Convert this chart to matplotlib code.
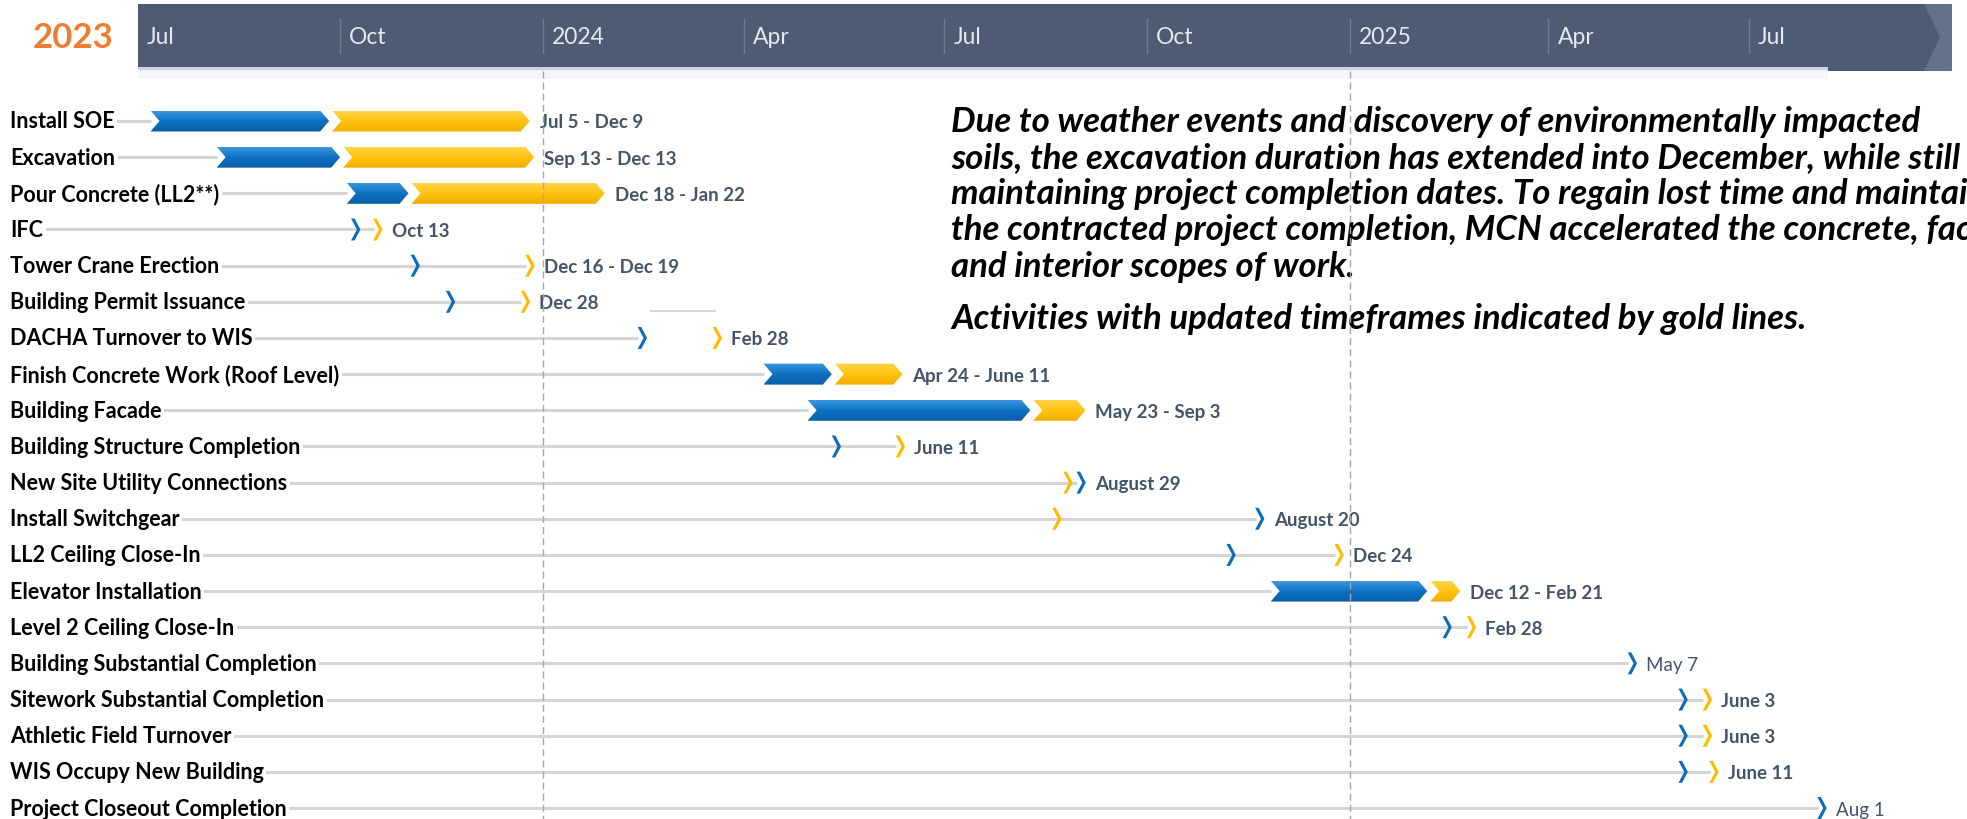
import datetime as dt
import numpy as np
import matplotlib
matplotlib.use("Agg")
import matplotlib.pyplot as plt
import matplotlib.dates as mdates
from matplotlib.patches import Polygon, Rectangle

# ------------------------------------------------------------------ data
tasks = ["Install SOE", "Excavation", "Pour Concrete (LL2**)", "IFC",
         "Tower Crane Erection", "Building Permit Issuance",
         "DACHA Turnover to WIS", "Finish Concrete Work (Roof Level)",
         "Building Facade", "Building Structure Completion",
         "New Site Utility Connections", "Install Switchgear",
         "LL2 Ceiling Close-In", "Elevator Installation",
         "Level 2 Ceiling Close-In", "Building Substantial Completion",
         "Sitework Substantial Completion", "Athletic Field Turnover",
         "WIS Occupy New Building", "Project Closeout Completion"]

bar_tasks = ["Install SOE", "Excavation", "Pour Concrete (LL2**)",
             "Finish Concrete Work (Roof Level)", "Building Facade",
             "Elevator Installation"]
bar_blue_start = ["2023-07-07", "2023-08-06", "2023-10-04",
                  "2024-04-10", "2024-04-30", "2024-11-26"]
bar_blue_end = ["2023-09-26", "2023-10-01", "2023-11-01",
                "2024-05-11", "2024-08-09", "2025-02-05"]
bar_gold_end = ["2023-12-26", "2023-12-28", "2024-01-29",
                "2024-06-12", "2024-09-03", "2025-02-20"]

ms_tasks = ["IFC", "Tower Crane Erection", "Building Permit Issuance",
            "DACHA Turnover to WIS", "Building Structure Completion",
            "New Site Utility Connections", "Install Switchgear",
            "LL2 Ceiling Close-In", "Level 2 Ceiling Close-In",
            "Building Substantial Completion", "Sitework Substantial Completion",
            "Athletic Field Turnover", "WIS Occupy New Building",
            "Project Closeout Completion"]
ms_blue = ["2023-10-08", "2023-11-04", "2023-11-20", "2024-02-15",
           "2024-05-13", "2024-09-01", "2024-11-21", "2024-11-08",
           "2025-02-14", "2025-05-09", "2025-06-01", "2025-06-01",
           "2025-06-01", "2025-08-03"]
ms_gold = ["2023-10-18", "2023-12-26", "2023-12-24", "2024-03-20",
           "2024-06-11", "2024-08-26", "2024-08-21", "2024-12-27",
           "2025-02-25", None, "2025-06-12", "2025-06-12",
           "2025-06-15", None]
# does the grey connector run on between the blue and gold marker?
ms_linked = [True, True, True, False, True, True, True, True,
             True, True, True, True, True, True]

date_labels = ["Jul 5 - Dec 9", "Sep 13 - Dec 13", "Dec 18 - Jan 22", "Oct 13",
               "Dec 16 - Dec 19", "Dec 28", "Feb 28", "Apr 24 - June 11",
               "May 23 - Sep 3", "June 11", "August 29", "August 20",
               "Dec 24", "Dec 12 - Feb 21", "Feb 28", "May 7", "June 3",
               "June 3", "June 11", "Aug 1"]
date_label_bold = [True] * 15 + [False] + [True] * 3 + [False]

stray_task = "Building Permit Issuance"
stray_span = ["2024-02-19", "2024-03-19"]

quarter_ticks = ["2023-07-01", "2023-10-01", "2024-01-01", "2024-04-01",
                 "2024-07-01", "2024-10-01", "2025-01-01", "2025-04-01",
                 "2025-07-01"]
quarter_labels = ["Jul", "Oct", "2024", "Apr", "Jul", "Oct", "2025", "Apr", "Jul"]
year_marks = ["2024-01-01", "2025-01-01"]
start_year = "2023"

note_lines = ["Due to weather events and discovery of environmentally impacted",
              "soils, the excavation duration has extended into December, while still",
              "maintaining project completion dates. To regain lost time and maintain",
              "the contracted project completion, MCN accelerated the concrete, facade",
              "and interior scopes of work."]
note_footer = "Activities with updated timeframes indicated by gold lines."

# ------------------------------------------------------------------ style
FONT = "Lato"
plt.rcParams["font.family"] = [FONT, "DejaVu Sans"]
BLUE_TOP, BLUE_MID, BLUE_BOT = "#3C97DD", "#0C70C2", "#0A5EA6"
GOLD_TOP, GOLD_MID, GOLD_BOT = "#FFD54A", "#FFC20E", "#F0AE00"
LINE_GREY = "#D5D5D5"
DATE_COL = "#44546A"
HEADER_COL = "#4D5B73"

W, H, DPI = 1967, 820, 100
PX_PER_DAY = 2.205
X_2024 = 543.0        # pixel of 2024-01-01
ROW0, ROW_PX = 122.0, 36.16

fig = plt.figure(figsize=(W / DPI, H / DPI), dpi=DPI)
ax = fig.add_axes([0, 0, 1, 1])
ref = mdates.date2num(dt.datetime(2024, 1, 1))
x_left = ref - X_2024 / PX_PER_DAY
ax.set_xlim(x_left, x_left + W / PX_PER_DAY)
ax.set_ylim((H - ROW0) / ROW_PX, -ROW0 / ROW_PX)
ax.axis("off")


def d(s):
    return mdates.date2num(dt.datetime.strptime(s, "%Y-%m-%d"))


def dx(px):
    return px / PX_PER_DAY


def dy(px):
    return px / ROW_PX


def xp(px):   # absolute pixel -> data x
    return x_left + px / PX_PER_DAY


def yp(px):   # absolute pixel -> data y
    return (px - ROW0) / ROW_PX


def gradient_fill(poly_xy, cols, zorder):
    poly = Polygon(poly_xy, closed=True, facecolor="none", edgecolor="none")
    ax.add_patch(poly)
    xs = [p[0] for p in poly_xy]
    ys = [p[1] for p in poly_xy]
    cmap = matplotlib.colors.LinearSegmentedColormap.from_list("g", cols)
    grad = np.linspace(0, 1, 64).reshape(-1, 1)
    im = ax.imshow(grad, cmap=cmap, extent=[min(xs), max(xs), max(ys), min(ys)],
                   origin="upper", aspect="auto", zorder=zorder,
                   interpolation="bilinear")
    im.set_clip_path(poly)


BAR_H = dy(21)
TIP = dx(9)


def chevron_bar(x0, x1, y, cols, zorder=4):
    top, bot = y - BAR_H / 2, y + BAR_H / 2
    pts = [(x0, top), (x1 - TIP, top), (x1, y), (x1 - TIP, bot), (x0, bot),
           (x0 + TIP, y)]
    gradient_fill(pts, cols, zorder)


def chevron_ms(x, y, color, zorder=5):
    h = dy(22) / 2
    pts = [(x - dx(4.5), y - h), (x - dx(1.0), y - h), (x + dx(4.8), y),
           (x - dx(1.0), y + h), (x - dx(4.5), y + h), (x + dx(1.3), y)]
    ax.add_patch(Polygon(pts, closed=True, facecolor=color, edgecolor="none",
                         zorder=zorder))


row_of = {t: i for i, t in enumerate(tasks)}
last_x = {}
label_x = {}

for t, s, m, e in zip(bar_tasks, bar_blue_start, bar_blue_end, bar_gold_end):
    i = row_of[t]
    chevron_bar(d(s), d(m), i, [BLUE_TOP, BLUE_MID, BLUE_BOT])
    chevron_bar(d(m) + dx(3), d(e), i, [GOLD_TOP, GOLD_MID, GOLD_BOT])
    last_x[t] = d(s)
    label_x[t] = d(e) + dx(10)

for t, b, g, lk in zip(ms_tasks, ms_blue, ms_gold, ms_linked):
    i = row_of[t]
    chevron_ms(d(b), i, "#0B6CBA")
    xs = [d(b)]
    if g is not None:
        chevron_ms(d(g), i, "#FFBA00")
        xs.append(d(g))
    last_x[t] = (max(xs) if lk else d(b)) - dx(4)
    label_x[t] = max(xs) + dx(14)

# grey connector lines
for i, t in enumerate(tasks):
    ax.plot([xp(10), last_x[t]], [i, i], color=LINE_GREY, lw=2.2,
            solid_capstyle="butt", zorder=1)
si = row_of[stray_task] + dy(9)
ax.plot([d(stray_span[0]), d(stray_span[1])], [si, si], color=LINE_GREY,
        lw=1.5, zorder=1)

# task labels
for i, t in enumerate(tasks):
    ax.text(xp(10), i, t, ha="left", va="center", fontsize=15.5,
            fontweight="bold", color="black", zorder=3,
            bbox=dict(boxstyle="square,pad=0.12", fc="white", ec="none"))

# date labels
for i, t in enumerate(tasks):
    ax.text(label_x[t], i + dy(1), date_labels[i], ha="left", va="center",
            fontsize=13.5, fontweight="bold" if date_label_bold[i] else "normal",
            color=DATE_COL, zorder=6)

# header
hx0, hx1 = xp(138), xp(1952)
ax.add_patch(Rectangle((hx0, yp(5)), hx1 - hx0, yp(72) - yp(5),
                       facecolor=HEADER_COL, edgecolor="none", zorder=7))
ax.add_patch(Polygon([(xp(1924), yp(5)), (xp(1952), yp(5)), (xp(1952), yp(72)),
                      (xp(1924), yp(72)), (xp(1940), yp(38))], closed=True,
                     facecolor="#63718A", edgecolor="none", zorder=7))
ax.add_patch(Rectangle((hx0, yp(68)), xp(1828) - hx0, yp(71) - yp(68),
                       facecolor="#C9D2DE", edgecolor="none", zorder=8))
ax.add_patch(Rectangle((hx0, yp(71)), xp(1828) - hx0, yp(80) - yp(71),
                       facecolor="#F3F5F8", edgecolor="none", zorder=8))
for k, (q, lab) in enumerate(zip(quarter_ticks, quarter_labels)):
    xq = d(q)
    if k > 0:
        ax.plot([xq, xq], [yp(20), yp(54)], color="#6F7C92", lw=1, zorder=8)
    ax.text(xq + dx(9), yp(37), lab, ha="left", va="center", fontsize=16.5,
            color="#E6E9EE", zorder=9)
ax.text(xp(33), yp(38), start_year, ha="left", va="center", fontsize=25,
        fontweight="bold", color="#ED7D31", zorder=9)

# year dashed lines
for ym in year_marks:
    ax.plot([d(ym), d(ym)], [yp(72), yp(H)], color="#A6A6A6", lw=1,
            dashes=(5, 3), zorder=10)

# note
for k, line in enumerate(note_lines):
    ax.text(xp(951), k, line, ha="left", va="center", fontsize=25,
            fontweight="bold", style="italic", color="black", zorder=9)
ax.text(xp(951), yp(319), note_footer, ha="left", va="center", fontsize=25,
        fontweight="bold", style="italic", color="black", zorder=9)

fig.savefig("out.png", dpi=DPI)
